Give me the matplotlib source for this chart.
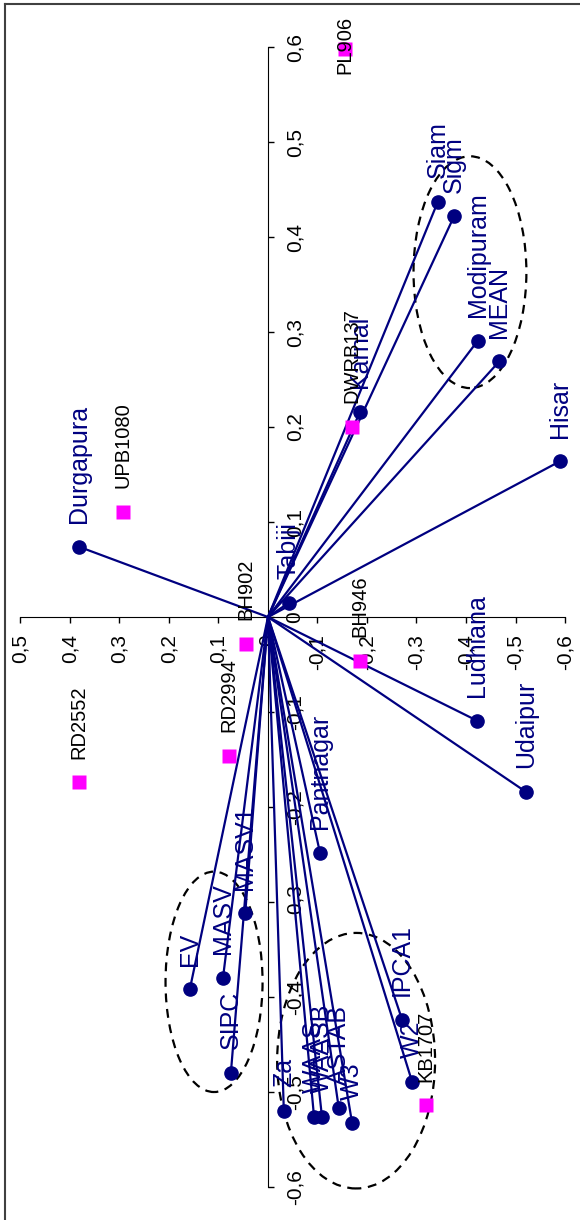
import matplotlib
matplotlib.use("Agg")
import matplotlib.pyplot as plt
from matplotlib.patches import Ellipse
from matplotlib.lines import Line2D

plt.rcParams['font.family'] = ['Liberation Sans', 'DejaVu Sans']

# environments / indices (vectors) : first axis is drawn vertically, second horizontally
env_names = ['Siam', 'Sigm', 'Modipuram', 'MEAN', 'Hisar', 'Karnal', 'Tabiji',
             'Durgapura', 'Ludhiana', 'Udaipur', 'Pantnagar', 'MASV1', 'MASV',
             'EV', 'SIPC', 'Za', 'WAAS', 'WAASB', 'ASTAB', 'W3', 'IPCA1', 'W2']
env_pc1 = [0.437, 0.422, 0.291, 0.269, 0.164, 0.216, 0.015,
           0.074, -0.109, -0.184, -0.248, -0.312, -0.380,
           -0.392, -0.480, -0.520, -0.526, -0.526, -0.517, -0.533, -0.424, -0.489]
env_pc2 = [-0.343, -0.376, -0.424, -0.467, -0.590, -0.186, -0.042,
           0.382, -0.422, -0.521, -0.105, 0.046, 0.091,
           0.158, 0.075, -0.032, -0.093, -0.109, -0.143, -0.170, -0.271, -0.291]

# genotypes (squares)
geno_names = ['PL906', 'UPB1080', 'DWRB137', 'BH902', 'BH946', 'RD2552', 'RD2994', 'KB1707']
geno_pc1 = [0.598, 0.111, 0.200, -0.028, -0.046, -0.174, -0.146, -0.514]
geno_pc2 = [-0.156, 0.293, -0.170, 0.044, -0.186, 0.382, 0.079, -0.319]

pc1_ticks = [-0.6, -0.5, -0.4, -0.3, -0.2, -0.1, 0, 0.1, 0.2, 0.3, 0.4, 0.5, 0.6]
pc2_ticks = [-0.6, -0.5, -0.4, -0.3, -0.2, -0.1, 0, 0.1, 0.2, 0.3, 0.4, 0.5]

# dashed groups: (centre pc2, centre pc1, width pc2, height pc1)
groups = [(-0.408, 0.363, 0.228, 0.244),
          (0.109, -0.384, 0.196, 0.232),
          (-0.178, -0.467, 0.319, 0.269)]

navy = '#000080'
magenta = '#ff00ff'

def fmt(v):
    if v == 0:
        return '0'
    return ('%.1f' % v).replace('.', ',')

fig = plt.figure(figsize=(5.8, 12.2), dpi=100)
ax = fig.add_axes([0, 0, 1, 1])
ax.set_xlim(0.5414, -0.6303)
ax.set_ylim(-0.6347, 0.6495)

for s in ['top', 'left']:
    ax.spines[s].set_visible(False)
ax.spines['right'].set_position(('data', 0))
ax.spines['right'].set_bounds(-0.6, 0.6)
ax.spines['bottom'].set_position(('data', 0))
ax.spines['bottom'].set_bounds(-0.6, 0.5)
ax.yaxis.tick_right()
ax.tick_params(direction='out', length=4.5, width=1, labelsize=15, pad=8)

ax.set_xticks(pc2_ticks)
ax.set_xticklabels([fmt(v) for v in pc2_ticks], rotation=90, ha='center', va='top')
ax.set_yticks(pc1_ticks)
ax.set_yticklabels([fmt(v) for v in pc1_ticks], rotation=90, ha='left', va='center')

# vectors
for i in range(len(env_names)):
    ax.plot([0, env_pc2[i]], [0, env_pc1[i]], color=navy, lw=1.6, zorder=3)
ax.plot(env_pc2, env_pc1, 'o', ms=9.5, color=navy, zorder=4)
for i, name in enumerate(env_names):
    ax.annotate(name, (env_pc2[i], env_pc1[i]), xytext=(0, 17), textcoords='offset points',
                rotation=90, ha='center', va='bottom', fontsize=18, color=navy, zorder=6)

# genotypes
ax.plot(geno_pc2, geno_pc1, 's', ms=10.5, color=magenta, mec='none', zorder=5)
for i, name in enumerate(geno_names):
    if name == 'PL906':
        off, va = (0, 3), 'center'
    else:
        off, va = (0, 17), 'bottom'
    ax.annotate(name, (geno_pc2[i], geno_pc1[i]), xytext=off, textcoords='offset points',
                rotation=90, ha='center', va=va, fontsize=14.5, color='black', zorder=6)

for cx, cy, w, h in groups:
    ax.add_patch(Ellipse((cx, cy), w, h, fill=False, ec='black', lw=1.6,
                         ls=(0, (4, 3)), zorder=2))

# chart border (only left and top edges visible)
fig.add_artist(Line2D([5 / 580, 5 / 580], [0, 1 - 3.5 / 1220], transform=fig.transFigure,
                      color='#404040', lw=1.5))
fig.add_artist(Line2D([5 / 580, 1], [1 - 3.5 / 1220, 1 - 3.5 / 1220], transform=fig.transFigure,
                      color='#404040', lw=1.5))

fig.savefig('out.png', dpi=100)
